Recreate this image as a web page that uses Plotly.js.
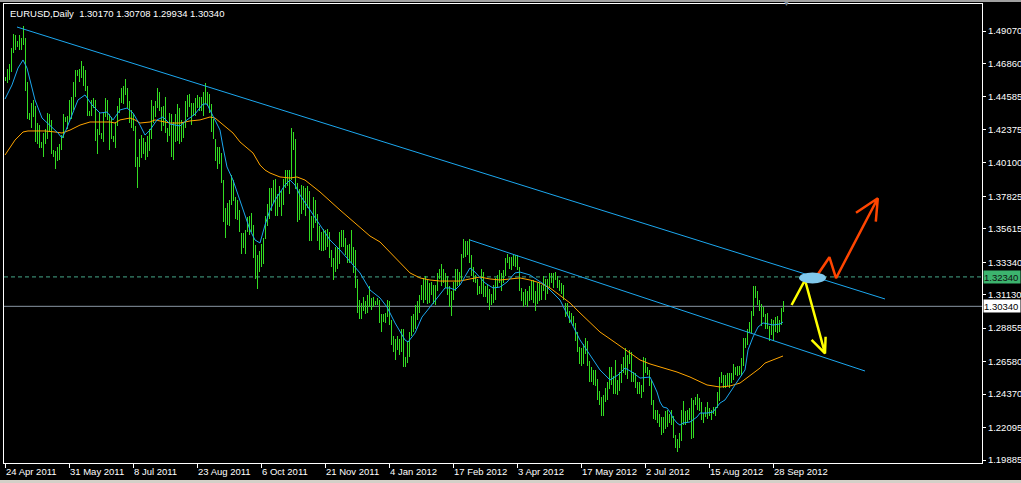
<!DOCTYPE html>
<html><head><meta charset="utf-8">
<script src="https://cdn.plot.ly/plotly-3.0.1.min.js"></script>
<style>
html,body{margin:0;padding:0;background:#000;overflow:hidden;}
#chart{width:1021px;height:483px;}
#topstrip{position:absolute;left:0;top:0;width:1021px;height:2px;background:#a0a0a0;}
#botstrip{position:absolute;left:0;top:480px;width:1021px;height:3px;background:#d4d0c8;}
</style></head><body>
<div id="chart"></div>
<div id="topstrip"></div><div id="botstrip"></div>
<script>
// ---- daily bars (bar index 0 = 24 Apr 2011, last = 5 Oct 2012) ----
const lows = [
1.4565,1.4555,1.4575,1.4625,1.4760,1.4780,1.4800,1.4780,1.4780,1.4810,
1.4500,1.4310,1.4300,1.4250,1.4320,1.4150,1.4140,1.4110,1.4110,1.4050,
1.4140,1.4170,1.4220,1.4070,1.4050,1.3970,1.4020,1.4030,1.4100,1.4180,
1.4290,1.4240,1.4290,1.4310,1.4370,1.4460,1.4600,1.4560,1.4590,1.4530,
1.4500,1.4330,1.4330,1.4330,1.4380,1.4160,1.4070,1.4200,1.4170,1.4150,
1.4320,1.4300,1.4100,1.4170,1.4150,1.4110,1.4260,1.4350,1.4420,1.4410,
1.4470,1.4380,1.4280,1.4250,1.4230,
1.3980,1.3840,1.3980,1.4040,1.4070,1.4030,1.4050,1.4090,1.4170,1.4280,
1.4320,1.4380,1.4360,1.4230,1.4260,1.4210,1.4150,1.4190,1.4050,1.4030,
1.4150,1.4160,1.4140,1.4150,1.4180,1.4250,1.4320,1.4390,1.4270,1.4330,
1.4330,1.4380,
1.4360,1.4360,1.4330,1.4410,1.4400,1.4350,1.4220,1.4170,1.4020,1.3970,
1.4000,1.3870,1.3610,1.3500,1.3590,1.3580,1.3720,1.3750,1.3630,1.3620,
1.3540,1.3390,1.3430,1.3390,1.3540,1.3520,1.3540,1.3360,1.3220,1.3150,
1.3270,1.3300,
1.3320,1.3490,1.3580,1.3630,1.3680,1.3740,1.3650,1.3650,1.3710,1.3650,
1.3720,1.3840,1.3850,1.3800,1.3890,1.4100,1.3830,1.3610,1.3620,1.3660,
1.3690,1.3650,1.3700,1.3480,1.3480,1.3570,1.3600,1.3480,1.3420,1.3410,
1.3410,1.3420,
1.3440,1.3360,1.3300,1.3210,1.3270,1.3290,1.3320,1.3440,1.3440,1.3380,
1.3330,1.3330,1.3330,1.3260,1.3160,1.2990,1.2950,1.2950,1.3000,1.2980,
1.2990,1.3030,1.3010,1.3030,1.3040,1.3040,1.2920,1.2860,1.2930,1.2920,
1.2960,1.2910,
1.2770,1.2720,1.2670,1.2740,1.2700,1.2720,1.2620,1.2620,1.2650,1.2690,
1.2830,1.2860,1.2880,1.2940,1.2990,1.3080,1.3060,1.3080,1.3050,1.3060,
1.3110,1.3050,1.3040,1.3140,1.3220,1.3170,1.3190,1.3160,1.3110,1.3030,
1.2970,1.3080,
1.3140,1.3170,1.3180,1.3210,1.3360,1.3370,1.3380,1.3330,1.3240,1.3200,
1.3190,1.3110,1.3120,1.3120,1.3100,1.3100,1.3060,1.3010,1.3040,1.3060,
1.3080,1.3160,1.3190,1.3140,1.3190,1.3240,1.3330,1.3290,1.3280,1.3310,
1.3300,1.3280,
1.3140,1.3070,1.3030,1.3040,1.3030,1.3070,1.3080,1.3060,1.3000,1.3050,
1.3070,1.3080,1.3140,1.3080,1.3120,1.3160,1.3190,1.3160,1.3210,1.3160,
1.3140,1.3120,1.3080,1.2960,1.2970,1.2920,1.2920,1.2900,1.2800,1.2720,
1.2640,1.2630,
1.2640,1.2710,1.2630,1.2520,1.2520,1.2500,1.2490,1.2400,1.2360,1.2290,
1.2290,1.2380,1.2400,1.2470,1.2500,1.2440,1.2440,1.2430,1.2460,1.2510,
1.2580,1.2570,1.2540,1.2640,1.2520,1.2520,1.2480,1.2440,1.2440,1.2410,
1.2450,1.2580,
1.2570,1.2490,1.2360,1.2270,1.2260,1.2240,1.2210,1.2160,1.2170,1.2200,
1.2210,1.2240,1.2230,1.2140,1.2070,1.2040,1.2070,1.2120,1.2230,1.2230,
1.2250,1.2260,1.2130,1.2140,1.2360,1.2330,1.2320,1.2260,1.2240,1.2280,
1.2270,1.2290,
1.2260,1.2300,1.2290,1.2340,1.2390,1.2510,1.2480,1.2480,1.2490,1.2480,
1.2510,1.2530,1.2570,1.2560,1.2570,1.2560,1.2630,1.2750,1.2770,1.2860,
1.2850,1.2970,1.3090,1.3040,1.3000,1.2900,1.2960,1.2880,1.2880,1.2800,
1.2840,1.2800,1.2860,1.2850,1.2860,1.2910,1.2993
];
const highs = [
1.4595,1.4650,1.4680,1.4790,1.4885,1.4880,1.4840,1.4880,1.4860,1.4940,
1.4860,1.4560,1.4350,1.4420,1.4440,1.4400,1.4280,1.4270,1.4150,1.4210,
1.4240,1.4350,1.4340,1.4300,1.4100,1.4090,1.4120,1.4140,1.4200,1.4340,
1.4320,1.4330,1.4440,1.4460,1.4560,1.4640,1.4640,1.4650,1.4700,1.4670,
1.4640,1.4530,1.4360,1.4440,1.4450,1.4440,1.4240,1.4350,1.4210,1.4350,
1.4450,1.4440,1.4340,1.4320,1.4190,1.4290,1.4400,1.4450,1.4520,1.4530,
1.4580,1.4520,1.4430,1.4370,1.4340,
1.4260,1.4050,1.4170,1.4200,1.4180,1.4150,1.4190,1.4240,1.4440,1.4400,
1.4430,1.4520,1.4490,1.4390,1.4400,1.4460,1.4250,1.4350,1.4340,1.4290,
1.4340,1.4410,1.4380,1.4300,1.4290,1.4430,1.4470,1.4480,1.4420,1.4420,
1.4450,1.4470,
1.4460,1.4460,1.4490,1.4550,1.4490,1.4480,1.4410,1.4310,1.4170,1.4120,
1.4120,1.4080,1.3890,1.3700,1.3740,1.3760,1.3930,1.3890,1.3780,1.3760,
1.3690,1.3530,1.3530,1.3550,1.3640,1.3650,1.3670,1.3590,1.3450,1.3380,
1.3410,1.3460,
1.3500,1.3650,1.3730,1.3840,1.3840,1.3890,1.3900,1.3800,1.3850,1.3820,
1.3900,1.3960,1.3960,1.3960,1.4250,1.4220,1.4170,1.3870,1.3830,1.3860,
1.3850,1.3840,1.3850,1.3820,1.3650,1.3780,1.3760,1.3660,1.3580,1.3540,
1.3560,1.3550,
1.3560,1.3540,1.3420,1.3360,1.3440,1.3440,1.3540,1.3550,1.3550,1.3500,
1.3450,1.3460,1.3550,1.3440,1.3420,1.3220,1.3080,1.3060,1.3100,1.3070,
1.3110,1.3170,1.3090,1.3100,1.3070,1.3090,1.3080,1.2980,1.2980,1.2990,
1.3080,1.3070,
1.2940,1.2830,1.2810,1.2830,1.2810,1.2880,1.2880,1.2690,1.2800,1.2860,
1.2970,1.2980,1.3040,1.3070,1.3110,1.3180,1.3230,1.3240,1.3220,1.3190,
1.3200,1.3180,1.3180,1.3260,1.3290,1.3320,1.3290,1.3260,1.3240,1.3170,
1.3140,1.3200,
1.3290,1.3290,1.3270,1.3390,1.3490,1.3480,1.3480,1.3490,1.3380,1.3300,
1.3250,1.3220,1.3170,1.3290,1.3270,1.3170,1.3180,1.3150,1.3120,1.3180,
1.3230,1.3250,1.3280,1.3260,1.3280,1.3360,1.3390,1.3370,1.3370,1.3380,
1.3380,1.3380,
1.3300,1.3160,1.3130,1.3150,1.3140,1.3170,1.3210,1.3210,1.3140,1.3190,
1.3190,1.3180,1.3240,1.3220,1.3220,1.3260,1.3260,1.3260,1.3270,1.3240,
1.3210,1.3190,1.3180,1.3060,1.3060,1.3000,1.2990,1.2970,1.2920,1.2860,
1.2760,1.2750,
1.2780,1.2820,1.2800,1.2660,1.2620,1.2600,1.2600,1.2540,1.2460,1.2420,
1.2430,1.2480,1.2520,1.2620,1.2620,1.2560,1.2670,1.2530,1.2590,1.2640,
1.2690,1.2750,1.2700,1.2740,1.2720,1.2590,1.2580,1.2520,1.2520,1.2500,
1.2690,1.2680,
1.2620,1.2600,1.2530,1.2400,1.2330,1.2330,1.2300,1.2280,1.2280,1.2320,
1.2330,1.2300,1.2330,1.2290,1.2160,1.2130,1.2170,1.2330,1.2390,1.2320,
1.2330,1.2340,1.2410,1.2400,1.2420,1.2440,1.2410,1.2380,1.2310,1.2350,
1.2380,1.2340,
1.2330,1.2350,1.2350,1.2450,1.2550,1.2590,1.2570,1.2570,1.2580,1.2580,
1.2580,1.2640,1.2620,1.2630,1.2630,1.2680,1.2820,1.2820,1.2880,1.2930,
1.3000,1.3170,1.3170,1.3140,1.3080,1.3050,1.3030,1.2980,1.2990,1.2900,
1.2950,1.2940,1.2960,1.2970,1.2940,1.3020,1.3071
];

// ---- fast moving average (blue): bar index / price ----
const maFastIdx = [0,3.5,6.5,9,11,12.5,15,18.5,22.5,26.5,28.5,30.5,32.5,36.5,40,43.5,47.5,51,54,57.5,61,64,67.5,70,72.5,76,79,82.5,87.5,91,95,99,101,102.5,105,107.5,109,111,114,117.5,120,122.5,125,127.5,130,132.5,135,137.5,140,142.5,145,147.5,152.5,157.5,162.5,167.5,172.5,177.5,182.5,187.5,191,195,200,201.5,205,208.5,212.5,217.5,220,222.5,225,227.5,230,232.5,235,237.5,240,244,247.5,251,255,257.5,262.5,270,277.5,282.5,287.5,292.5,297.5,302.5,306.5,310,313.5,317.5,322.5,324,326,327.5,329,331,332.5,334,336,337.5,339,342.5,344,346,347.5,351,354,357.5,360,365,370,371.5,374,376.5,379,384,387.5,389];
const maFast = [1.4444,1.4540,1.4655,1.4710,1.4655,1.4574,1.4438,1.4315,1.4267,1.4213,1.4179,1.4233,1.4302,1.4438,1.4472,1.4404,1.4349,1.4356,1.4302,1.4370,1.4383,1.4349,1.4267,1.4199,1.4233,1.4302,1.4322,1.4274,1.4261,1.4302,1.4342,1.4410,1.4410,1.4370,1.4302,1.4233,1.4118,1.3982,1.3893,1.3757,1.3655,1.3553,1.3485,1.3465,1.3587,1.3689,1.3757,1.3812,1.3859,1.3893,1.3859,1.3791,1.3689,1.3587,1.3485,1.3417,1.3336,1.3261,1.3145,1.3091,1.3029,1.2921,1.2805,1.2791,1.2852,1.2961,1.3029,1.3111,1.3159,1.3159,1.3145,1.3179,1.3233,1.3295,1.3267,1.3227,1.3193,1.3159,1.3165,1.3199,1.3261,1.3267,1.3247,1.3179,1.3077,1.2941,1.2805,1.2703,1.2601,1.2533,1.2567,1.2614,1.2587,1.2546,1.2553,1.2512,1.2451,1.2383,1.2349,1.2342,1.2315,1.2274,1.2240,1.2226,1.2240,1.2247,1.2261,1.2281,1.2308,1.2308,1.2315,1.2376,1.2397,1.2499,1.2601,1.2737,1.2825,1.2893,1.2921,1.2907,1.2914,1.2927];

// ---- slow moving average (orange) ----
const maSlowIdx = [0,2.5,5,9,11.5,15,20,25,28.5,32.5,37.5,42.5,47.5,52.5,55,57.5,62.5,65,67.5,72.5,75,80,82.5,87.5,92.5,97.5,102.5,105,107.5,111,114,117.5,121,124,127.5,130,132.5,137.5,142.5,146,150,157.5,167.5,177.5,182.5,187.5,192.5,197.5,202.5,207.5,212.5,217.5,225,227.5,232.5,235,237.5,242.5,247.5,252.5,257.5,262.5,267.5,272.5,277.5,282.5,287.5,292.5,297.5,302.5,307.5,312.5,317.5,322.5,327.5,336,342.5,347.5,351,357.5,362.5,367.5,372.5,377.5,380,384,389];
const maSlow = [1.4063,1.4111,1.4165,1.4220,1.4227,1.4227,1.4227,1.4220,1.4213,1.4233,1.4267,1.4288,1.4288,1.4288,1.4281,1.4302,1.4315,1.4302,1.4281,1.4288,1.4302,1.4288,1.4281,1.4281,1.4295,1.4302,1.4322,1.4315,1.4288,1.4247,1.4213,1.4152,1.4111,1.4077,1.3995,1.3961,1.3941,1.3914,1.3907,1.3914,1.3893,1.3812,1.3689,1.3567,1.3512,1.3472,1.3404,1.3329,1.3261,1.3227,1.3213,1.3206,1.3206,1.3206,1.3220,1.3227,1.3233,1.3220,1.3213,1.3220,1.3227,1.3213,1.3193,1.3159,1.3111,1.3057,1.2989,1.2921,1.2859,1.2812,1.2764,1.2716,1.2669,1.2642,1.2621,1.2587,1.2553,1.2519,1.2499,1.2485,1.2492,1.2512,1.2560,1.2614,1.2648,1.2669,1.2696];

// ---- drawn objects ----
const upperTrendIdx = [6, 440], upperTrendPrice = [1.4934, 1.3084];
const lowerTrendIdx = [232.5, 430], lowerTrendPrice = [1.3485, 1.2594];
const yellowIdx = [393.3, 400, 410, 403.3, 410, 410.3], yellowPrice = [1.3043, 1.3213, 1.2714, 1.2805, 1.2714, 1.2827];
const redIdx = [406.2, 412.2, 415.5, 436.4, 425.5, 436.4, 435.4], redPrice = [1.3247, 1.3368, 1.3225, 1.3769, 1.3671, 1.3769, 1.3610];
const ellipseIdx = [397, 410.5], ellipsePrice = [1.3190, 1.3264];
const alertLevel = 1.32340, bidLevel = 1.30340;

// ---- axes ----
const dateLabels = ['24 Apr 2011','31 May 2011','8 Jul 2011','23 Aug 2011','6 Oct 2011','21 Nov 2011','4 Jan 2012','17 Feb 2012','3 Apr 2012','17 May 2012','2 Jul 2012','15 Aug 2012','28 Sep 2012'];
const priceTicks = [1.49070,1.46860,1.44585,1.42375,1.40100,1.37825,1.35615,1.33340,1.31130,1.28855,1.26580,1.24370,1.22095,1.19885];
const titleText = 'EURUSD,Daily&nbsp; 1.30170 1.30708 1.29934 1.30340';

const F = 'Liberation Sans, Arial, sans-serif';
const idx = lows.map((_, k) => k);
const spans = highs.map((h, k) => h - lows[k]);

const traces = [
  {type:'bar', x: idx, base: lows, y: spans, width: 0.5,
   marker:{color:'#33dd22', line:{width:0}}, hoverinfo:'skip'},
  {type:'scatter', mode:'lines', x: maSlowIdx, y: maSlow, line:{color:'#ffa500', width:1}, hoverinfo:'skip'},
  {type:'scatter', mode:'lines', x: maFastIdx, y: maFast, line:{color:'#1ca8f0', width:1}, hoverinfo:'skip'},
  {type:'scatter', mode:'lines', x: upperTrendIdx, y: upperTrendPrice, line:{color:'#1ca8f0', width:1}, hoverinfo:'skip'},
  {type:'scatter', mode:'lines', x: lowerTrendIdx, y: lowerTrendPrice, line:{color:'#1ca8f0', width:1}, hoverinfo:'skip'},
  {type:'scatter', mode:'lines', x: yellowIdx, y: yellowPrice, line:{color:'#ffff00', width:2.5}, hoverinfo:'skip'},
  {type:'scatter', mode:'lines', x: redIdx, y: redPrice, line:{color:'#ff4500', width:2.5}, hoverinfo:'skip'}
];

const layout = {
  width: 1021, height: 483,
  margin: {l:4, r:39, t:4, b:20},
  paper_bgcolor:'#000', plot_bgcolor:'#000',
  showlegend:false, bargap:0,
  font:{family:F, size:9.5, color:'#fff'},
  xaxis:{range:[-0.5, 488.5], showgrid:false, zeroline:false, showline:true, mirror:true,
         linecolor:'#fff', linewidth:1, ticks:'outside', ticklen:4, tickcolor:'#fff',
         tickvals: dateLabels.map((_, k) => k * 32), ticktext: dateLabels,
         ticklabelposition:'outside right', tickfont:{family:F, size:9.5, color:'#fff'}, fixedrange:true},
  yaxis:{side:'right', range:[1.19681, 1.50907], showgrid:false, zeroline:false, showline:true, mirror:true,
         linecolor:'#fff', linewidth:1, ticks:'outside', ticklen:3, tickcolor:'#fff',
         tickvals: priceTicks, tickformat:'.5f', tickfont:{family:F, size:9.5, color:'#fff'}, fixedrange:true},
  shapes:[
    {type:'line', xref:'paper', x0:0, x1:1, yref:'y', y0:alertLevel, y1:alertLevel, layer:'below',
     line:{color:'#46a88a', width:1, dash:'4px,3px'}},
    {type:'line', xref:'paper', x0:0, x1:1, yref:'y', y0:bidLevel, y1:bidLevel, layer:'below',
     line:{color:'#8a96a3', width:1}},
    {type:'circle', xref:'x', yref:'y', x0:ellipseIdx[0], x1:ellipseIdx[1], y0:ellipsePrice[0], y1:ellipsePrice[1],
     fillcolor:'#80c8ec', line:{width:0}, layer:'above'}
  ],
  annotations:[
    {xref:'paper', yref:'paper', x:0, y:1, xanchor:'left', yanchor:'top', xshift:4, yshift:-2,
     text:titleText, showarrow:false, font:{family:F, size:9.5, color:'#fff'}},
    {xref:'paper', yref:'y', x:1, y:alertLevel, xanchor:'left', xshift:1, text:alertLevel.toFixed(5),
     showarrow:false, bgcolor:'#3cb46e', width:36, height:12, borderpad:0, align:'left',
     font:{family:F, size:9.5, color:'#101010'}},
    {xref:'paper', yref:'y', x:1, y:bidLevel, xanchor:'left', xshift:1, text:bidLevel.toFixed(5),
     showarrow:false, bgcolor:'#ffffff', width:36, height:12, borderpad:0, align:'left',
     font:{family:F, size:9.5, color:'#000'}},
    {xref:'x', yref:'paper', x:390.5, y:1, yanchor:'middle', yshift:1, text:'▼', showarrow:false,
     font:{size:7, color:'#7a8a9a'}}
  ]
};

Plotly.newPlot('chart', traces, layout, {displayModeBar:false, staticPlot:true});
</script>
</body></html>
